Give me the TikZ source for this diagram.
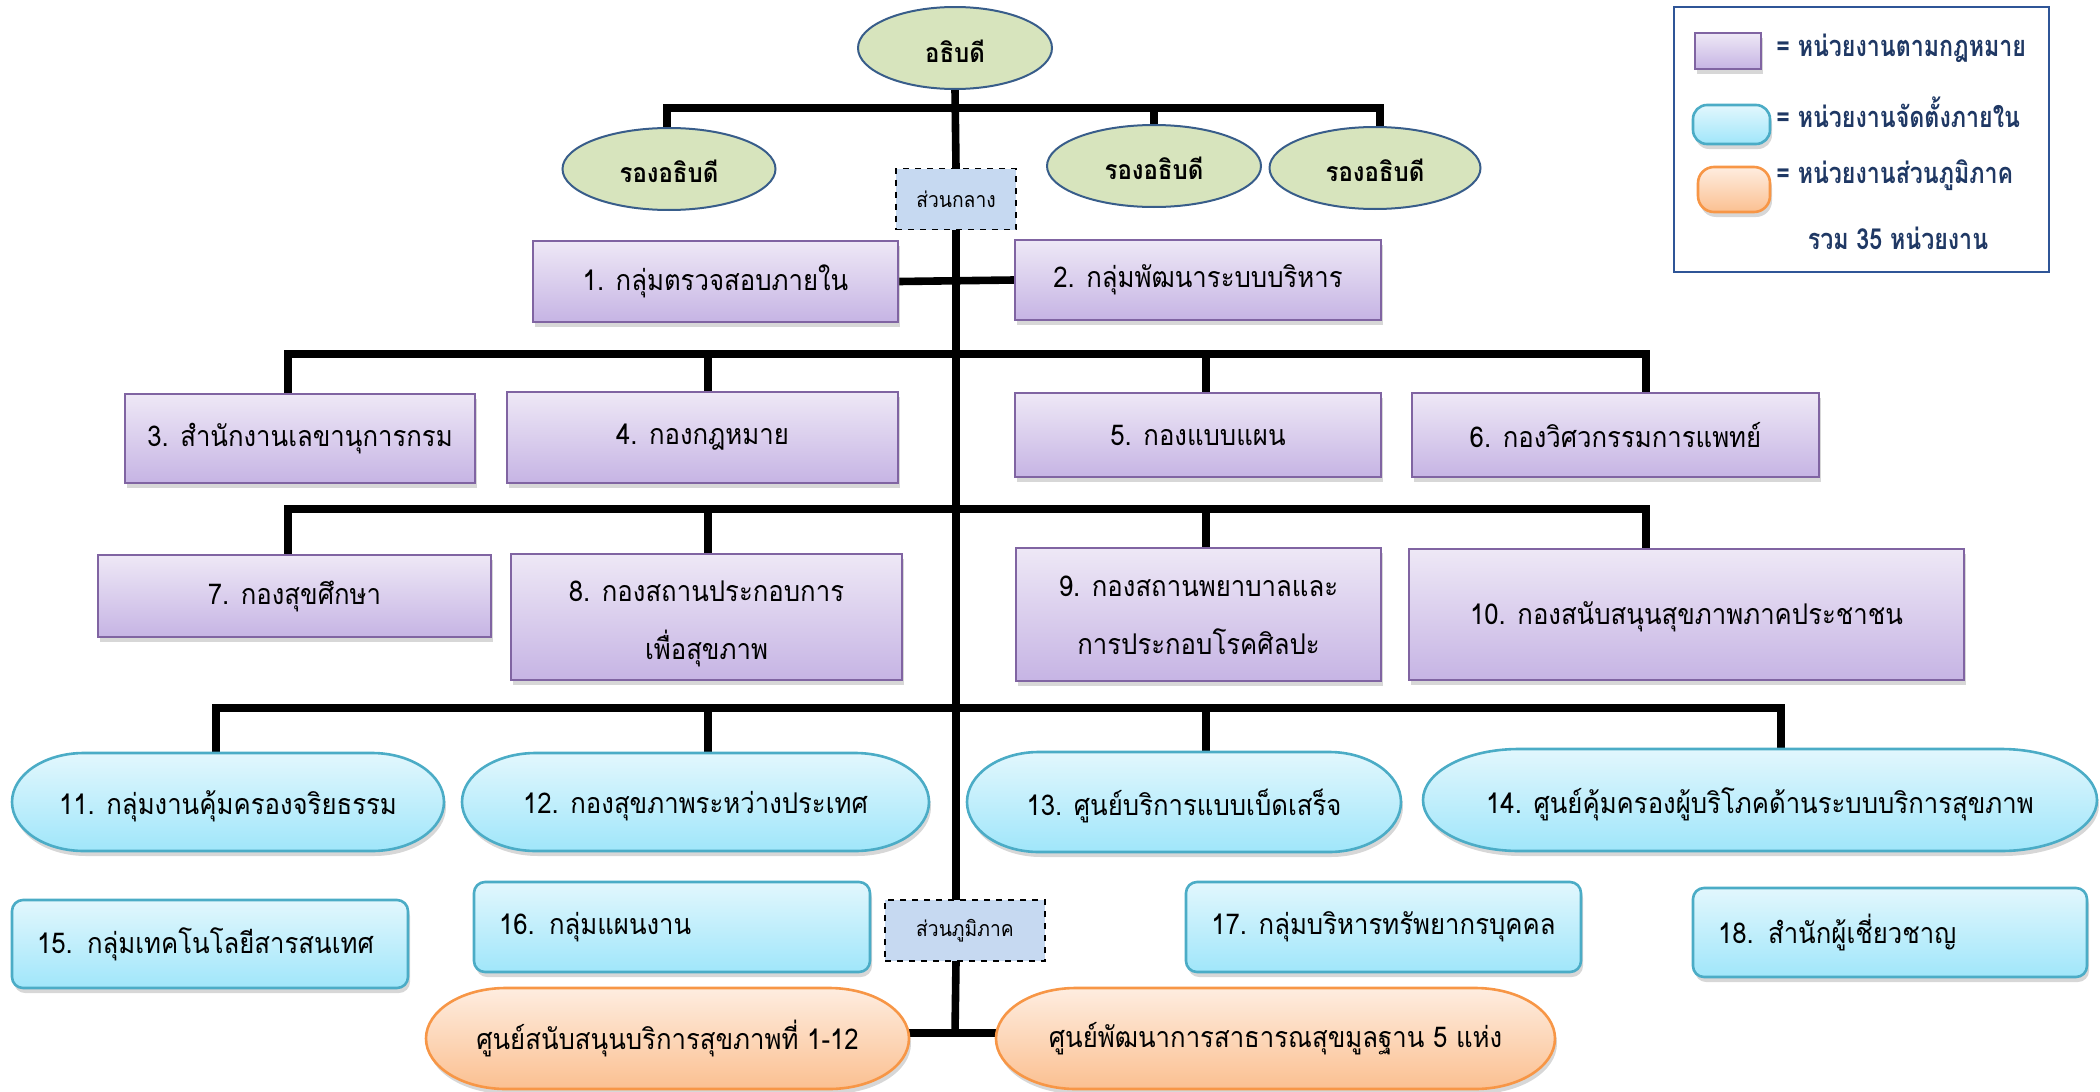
\documentclass[tikz,border=0pt]{standalone}
\usepackage{fontspec}
\setmainfont[Script=Thai,FakeStretch=0.9]{Loma}
\newfontfamily\legfont[Script=Thai,FakeStretch=0.8]{Loma}
\usetikzlibrary{shapes.geometric,shadows,calc}
\definecolor{elfill}{HTML}{D7E4BD}
\definecolor{elline}{HTML}{385D8A}
\definecolor{purline}{HTML}{8064A2}
\definecolor{puttop}{RGB}{238,232,246}
\definecolor{purbot}{RGB}{198,180,228}
\definecolor{cyline}{HTML}{4BACC6}
\definecolor{cytop}{RGB}{226,247,253}
\definecolor{cybot}{RGB}{160,230,250}
\definecolor{orline}{HTML}{F79646}
\definecolor{ortop}{RGB}{254,237,224}
\definecolor{orbot}{RGB}{251,192,145}
\definecolor{dashfill}{HTML}{C6D9F1}
\definecolor{legline}{HTML}{2F5597}
\definecolor{legtext}{HTML}{1F3864}
\pgfdeclarelayer{bg}
\pgfdeclarelayer{mid}
\pgfsetlayers{bg,mid,main}
\newcommand\lowtxt[2]{\raisebox{-#1}[\height][\depth]{#2}}
\newcommand\pillshape[4]{%
  \path[#4] ($(#1.north west)+(#2,0pt)$) -- ($(#1.north east)+(-#2,0pt)$)
    arc[start angle=90, end angle=-90, x radius=#2, y radius=#3]
    -- ($(#1.south west)+(#2,0pt)$)
    arc[start angle=270, end angle=90, x radius=#2, y radius=#3] -- cycle;}
\tikzset{
  boxtext/.style={font=\fontsize{14.3}{29}\selectfont, align=center, inner sep=0pt},
  elnode/.style={ellipse, draw=elline, line width=1pt, fill=elfill, inner sep=0pt,
    font=\bfseries\fontsize{13.3}{15}\selectfont},
  dashbox/.style={draw=black, dashed, line width=0.8pt, fill=dashfill, inner sep=0pt,
    font=\fontsize{10.7}{12}\selectfont},
  shad/.style={drop shadow={shadow xshift=1pt, shadow yshift=-2.5pt, fill=black!45, opacity=0.35}},
  purbox/.style={boxtext, shad, draw=purline, line width=1.1pt, top color=puttop, bottom color=purbot},
  pillnode/.style={boxtext, outer sep=0pt},
  cyfill/.style={shad, draw=cyline, line width=1.3pt, top color=cytop, bottom color=cybot},
  orfill/.style={shad, draw=orline, line width=1.3pt, top color=ortop, bottom color=orbot},
  cyround/.style={boxtext, cyfill, rounded corners=5.5pt},
  conn/.style={line width=3.8pt, line join=miter, line cap=rect},
  legtxt/.style={font=\legfont\bfseries\fontsize{14.5}{16}\selectfont, text=legtext, inner sep=0pt},
}
\begin{document}
\begin{tikzpicture}[x=0.5pt,y=-0.5pt]
\useasboundingbox (0,0) rectangle (2100,1092);
% top
\node[elnode, minimum width=97pt, minimum height=41pt] (dir) at (955,48) {\lowtxt{1.8pt}{อธิบดี}};
\node[elnode, minimum width=106.5pt, minimum height=41pt] (d1) at (669,169) {\lowtxt{1.2pt}{รองอธิบดี}};
\node[elnode, minimum width=107pt, minimum height=41pt] (d2) at (1154,166) {\lowtxt{1.2pt}{รองอธิบดี}};
\node[elnode, minimum width=105.5pt, minimum height=41pt] (d3) at (1375,168) {\lowtxt{1.2pt}{รองอธิบดี}};
\node[dashbox, minimum width=60pt, minimum height=30.5pt] (c1) at (956,199) {ส่วนกลาง};
% purple boxes
\node[purbox, minimum width=182.5pt, minimum height=40.5pt] (b1) at (715.5,281.5) {1. กลุ่มตรวจสอบภายใน};
\node[purbox, minimum width=183pt, minimum height=40pt] (b2) at (1198,280) {2. กลุ่มพัฒนาระบบบริหาร};
\node[purbox, minimum width=175pt, minimum height=44.5pt] (b3) at (300,438.5) {3. สำนักงานเลขานุการกรม};
\node[purbox, minimum width=195.5pt, minimum height=45.5pt] (b4) at (702.5,437.5) {4. กองกฎหมาย};
\node[purbox, minimum width=183pt, minimum height=42pt] (b5) at (1198,435) {5. กองแบบแผน};
\node[purbox, minimum width=203.5pt, minimum height=42pt] (b6) at (1615.5,435) {6. กองวิศวกรรมการแพทย์};
\node[purbox, minimum width=196.5pt, minimum height=41pt] (b7) at (294.5,596) {7. กองสุขศึกษา};
\node[purbox, minimum width=195.5pt, minimum height=63pt] (b8) at (706.5,617) {\lowtxt{3.5pt}{8. กองสถานประกอบการ}\\\lowtxt{3.5pt}{เพื่อสุขภาพ}};
\node[purbox, minimum width=182.5pt, minimum height=66.5pt] (b9) at (1198.5,614.5) {\lowtxt{0.5pt}{9. กองสถานพยาบาลและ}\\\lowtxt{0.5pt}{การประกอบโรคศิลปะ}};
\node[purbox, minimum width=277.5pt, minimum height=65.5pt] (b10) at (1686.5,614.5) {\lowtxt{1pt}{10. กองสนับสนุนสุขภาพภาคประชาชน}};
% cyan
\node[pillnode, minimum width=216pt, minimum height=49pt] (n11) at (228,802) {\lowtxt{2.2pt}{11. กลุ่มงานคุ้มครองจริยธรรม}};
\node[pillnode, minimum width=233.5pt, minimum height=49pt] (n12) at (695.5,802) {\lowtxt{2.2pt}{12. กองสุขภาพระหว่างประเทศ}};
\node[pillnode, minimum width=217pt, minimum height=50pt] (n13) at (1184,802) {\lowtxt{2.2pt}{13. ศูนย์บริการแบบเบ็ดเสร็จ}};
\node[pillnode, minimum width=337pt, minimum height=51pt] (n14) at (1760,800) {\lowtxt{2.2pt}{14. ศูนย์คุ้มครองผู้บริโภคด้านระบบบริการสุขภาพ}};
\node[cyround, minimum width=198pt, minimum height=44pt, text width=173pt, inner xsep=12.5pt, align=left] (n15) at (210,944) {15. กลุ่มเทคโนโลยีสารสนเทศ};
\node[cyround, minimum width=198pt, minimum height=45pt, text width=173pt, inner xsep=12.5pt, align=left] (n16) at (672,927) {16. กลุ่มแผนงาน};
\node[dashbox, minimum width=80pt, minimum height=30.5pt] (c2) at (965,930.5) {ส่วนภูมิภาค};
\node[cyround, minimum width=197.5pt, minimum height=45pt] (n17) at (1383.5,927) {17. กลุ่มบริหารทรัพยากรบุคคล};
\node[cyround, minimum width=197pt, minimum height=44.5pt, text width=172pt, inner xsep=12.5pt, align=left] (n18) at (1890,932.5) {18. สำนักผู้เชี่ยวชาญ};
% orange
\node[pillnode, minimum width=241.5pt, minimum height=50.5pt] (o1) at (667.5,1038.5) {ศูนย์สนับสนุนบริการสุขภาพที่ 1-12};
\node[pillnode, minimum width=279.5pt, minimum height=50.5pt] (o2) at (1275.5,1038.5) {ศูนย์พัฒนาการสาธารณสุขมูลฐาน 5 แห่ง};
% legend
\node[draw=legline, line width=0.8pt, minimum width=187.5pt, minimum height=132.5pt, inner sep=0pt] (leg) at (1861.5,139.5) {};
\node[shad, draw=purline, line width=1.1pt, top color=puttop, bottom color=purbot, minimum width=33pt, minimum height=18pt, inner sep=0pt] (s1) at (1728,51) {};
\node[cyfill, rounded corners=7pt, minimum width=38.5pt, minimum height=19.5pt, inner sep=0pt] (s2) at (1731.5,124.5) {};
\node[orfill, rounded corners=8pt, minimum width=36pt, minimum height=22.5pt, inner sep=0pt] (s3) at (1734,189.5) {};
\node[legtxt, anchor=west] (t1) at (1776,48) {= หน่วยงานตามกฎหมาย};
\node[legtxt, anchor=west] (t2) at (1776,112) {= หน่วยงานจัดตั้งภายใน};
\node[legtxt, anchor=west] (t3) at (1776,175) {= หน่วยงานส่วนภูมิภาค};
\node[legtxt] (t4) at (1898,238) {รวม 35 หน่วยงาน};
% pill outlines
\begin{pgfonlayer}{mid}
\pillshape{n11}{36pt}{24.5pt}{cyfill}
\pillshape{n12}{37pt}{24.5pt}{cyfill}
\pillshape{n13}{36pt}{25pt}{cyfill}
\pillshape{n14}{48pt}{25.5pt}{cyfill}
\pillshape{o1}{40pt}{25.25pt}{orfill}
\pillshape{o2}{40pt}{25.25pt}{orfill}
\end{pgfonlayer}
% connectors
\begin{pgfonlayer}{bg}
\coordinate (a1) at (667,108);
\coordinate (a3) at (1380,108);
\draw[conn] (dir.south) -- (c1.north);
\draw[conn] (c1.south) -- (c2.north -| c1.south);
\draw[conn] (c2.south -| c1.south) -- (955,1033) coordinate (z);
\draw[conn] (a1 |- d1.north) -- (a1) -- (a3) -- (a3 |- d3.north);
\draw[conn] (d2.north |- a1) -- (d2.north);
\draw[conn] (b1.east) -- (b2.west);
\coordinate (k1) at (288,354);
\coordinate (k2) at (708,354);
\coordinate (k3) at (1206,354);
\coordinate (k4) at (1646,354);
\draw[conn] (k1 |- b3.north) -- (k1) -- (k4) -- (k4 |- b6.north);
\draw[conn] (k2) -- (k2 |- b4.north);
\draw[conn] (k3) -- (k3 |- b5.north);
\coordinate (m1) at (288,509);
\coordinate (m2) at (708,509);
\coordinate (m3) at (1206,509);
\coordinate (m4) at (1646,509);
\draw[conn] (m1 |- b7.north) -- (m1) -- (m4) -- (m4 |- b10.north);
\draw[conn] (m2) -- (m2 |- b8.north);
\draw[conn] (m3) -- (m3 |- b9.north);
\coordinate (p1) at (216,708);
\coordinate (p2) at (708,708);
\coordinate (p3) at (1206,708);
\coordinate (p4) at (1781,708);
\draw[conn] (p1 |- n11.north) -- (p1) -- (p4) -- (p4 |- n14.north);
\draw[conn] (p2) -- (p2 |- n12.north);
\draw[conn] (p3) -- (p3 |- n13.north);
\draw[conn] (o1.east |- z) -- (o2.west |- z);
\end{pgfonlayer}
\end{tikzpicture}
\end{document}
